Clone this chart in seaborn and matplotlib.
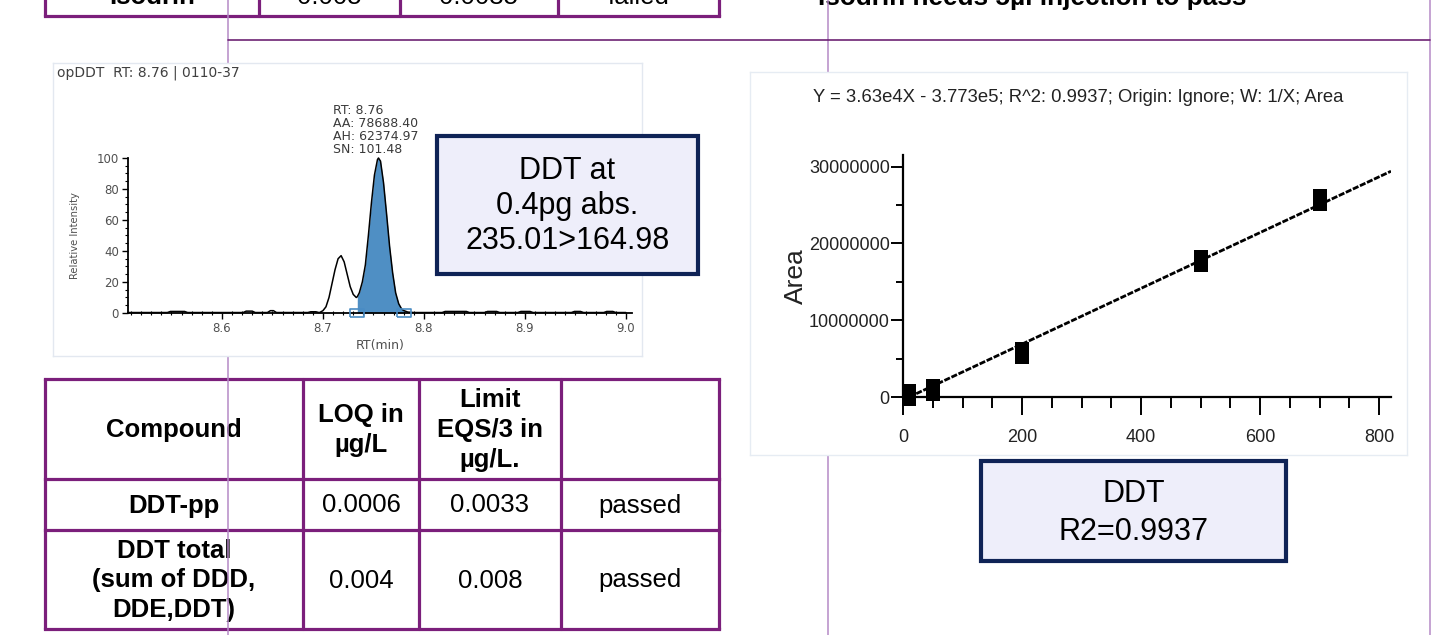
import numpy as np
import matplotlib
matplotlib.use("Agg")
import matplotlib.pyplot as plt
from matplotlib.patches import Rectangle
from matplotlib.ticker import MultipleLocator, FixedLocator
import seaborn as sns

# ---------------- data ----------------
# opDDT chromatogram, MRM 235.01>164.98 (relative intensity vs retention time)
rt_min = [8.507, 8.546, 8.549, 8.563, 8.566, 8.621, 8.624, 8.630, 8.633, 8.645,
          8.648, 8.651, 8.654, 8.685, 8.688, 8.693, 8.696,
          8.697, 8.700, 8.703, 8.706, 8.709, 8.712, 8.715, 8.718, 8.721, 8.724,
          8.727, 8.730, 8.733, 8.734, 8.736, 8.739, 8.742, 8.745, 8.748, 8.751,
          8.754, 8.755, 8.757, 8.760, 8.763, 8.766, 8.769, 8.772, 8.775, 8.778,
          8.780, 8.784, 8.790,
          8.818, 8.821, 8.842, 8.845, 8.860, 8.863, 8.872, 8.875, 8.893, 8.896,
          8.905, 8.908, 8.946, 8.949, 8.955, 8.958, 8.978, 8.981, 8.987, 8.990,
          9.000]
rel_intensity = [0.3, 0.3, 1.0, 1.0, 0.3, 0.3, 1.2, 1.2, 0.3, 0.3,
                 1.5, 1.5, 0.3, 0.3, 0.8, 0.8, 0.3,
                 0.4, 1.5, 4, 10, 19, 28, 35, 37, 33, 25,
                 17, 12, 10, 10.5, 13, 20, 31, 50, 71, 89,
                 99, 100, 98, 84, 64, 43, 26, 13, 6, 2.5,
                 1.6, 0.6, 0.3,
                 0.3, 1.0, 1.0, 0.3, 0.3, 1.0, 1.0, 0.3, 0.3, 1.0,
                 1.0, 0.3, 0.3, 1.0, 1.0, 0.3, 0.3, 1.0, 1.0, 0.3,
                 0.3]
peak_start, peak_end = 8.734, 8.780
chrom_title = "opDDT  RT: 8.76 | 0110-37"
peak_info = ["RT: 8.76", "AA: 78688.40", "AH: 62374.97", "SN: 101.48"]

# calibration of DDT (concentration vs peak area)
conc = [10, 50, 200, 500, 700]
area = [0.25e6, 0.9e6, 5.7e6, 17.7e6, 25.7e6]
slope, intercept, r_squared = 3.63e4, -3.773e5, 0.9937
fit_text = "Y = 3.63e4X - 3.773e5; R^2: 0.9937; Origin: Ignore; W: 1/X; Area"

# tables
top_row = ["Isodrin", "0.005", "0.0035", "failed"]
header = ["Compound", "LOQ in\nµg/L", "Limit\nEQS/3 in\nµg/L.", ""]
rows = [["DDT-pp", "0.0006", "0.0033", "passed"],
        ["DDT total\n(sum of DDD,\nDDE,DDT)", "0.004", "0.008", "passed"]]
headline = "Isodrin needs 5µl injection to pass"
box_chrom = "DDT at\n0.4pg abs.\n235.01>164.98"
box_cal = "DDT\nR2=0.9937"

# ---------------- style ----------------
sns.set_theme(style="white")
plt.rcParams["font.family"] = ["Liberation Sans", "DejaVu Sans"]
plt.rcParams["text.color"] = "black"
plt.rcParams["axes.labelcolor"] = "black"
CHROM_FONT = ["DejaVu Sans"]
CAL_FONT = ["Liberation Sans", "DejaVu Sans"]

W, H = 1450, 635
fig = plt.figure(figsize=(W / 100, H / 100), dpi=100)
fig.patch.set_facecolor("white")


def rect(x0, y0, x1, y1):
    return [x0 / W, 1 - y1 / H, (x1 - x0) / W, (y1 - y0) / H]


PURPLE = "#7b1f7b"
THIN = "#b58ac6"
NAVY = "#0f2356"

# background layer: tables and slide guide lines
bg = fig.add_axes([0, 0, 1, 1], zorder=0)
bg.set_xlim(0, W)
bg.set_ylim(H, 0)
bg.axis("off")

# top table (last row only)
top_cols = [45, 259, 400, 558, 719]
bg.plot([45, 719], [16, 16], color=PURPLE, lw=2.3, solid_capstyle="projecting", zorder=2)
for x in top_cols:
    bg.plot([x, x], [-5, 16], color=PURPLE, lw=2.3, zorder=2)
for i, txt in enumerate(top_row):
    bg.text((top_cols[i] + top_cols[i + 1]) / 2, 4.5, txt, ha="center", va="baseline",
            fontsize=18.5, fontweight="bold" if i == 0 else "normal", zorder=3)

# bottom table
cols = [45, 303, 419, 561, 719]
row_y = [379, 479, 530, 629]
for y in row_y:
    bg.plot([45, 719], [y, y], color=PURPLE, lw=2.3, solid_capstyle="projecting", zorder=2)
for x in cols:
    bg.plot([x, x], [379, 629], color=PURPLE, lw=2.3, zorder=2)
for r, line in enumerate([header] + rows):
    yc = (row_y[r] + row_y[r + 1]) / 2
    for c, txt in enumerate(line):
        bold = (r == 0) or (c == 0)
        bg.text((cols[c] + cols[c + 1]) / 2, yc + 1, txt, ha="center", va="center",
                fontsize=18.5, fontweight="bold" if bold else "normal",
                linespacing=1.3, zorder=3)

# guide lines
bg.plot([228, 228], [0, H], color=THIN, lw=1.1, zorder=5)
bg.plot([828, 828], [0, H], color=THIN, lw=1.1, zorder=5)
bg.plot([1430, 1430], [0, H], color=THIN, lw=1.1, zorder=5)
bg.plot([228, 1430], [40, 40], color="#6d2273", lw=1.2, zorder=5)
bg.text(1032, 5, headline, ha="center", va="baseline", fontsize=18.8,
        fontweight="bold", zorder=3)

# ---------------- chromatogram ----------------
panel1 = fig.add_axes(rect(53, 63, 642, 356), zorder=2)
panel1.set_facecolor("white")
panel1.set_xticks([])
panel1.set_yticks([])
for s in panel1.spines.values():
    s.set_color("#e3e8f0")
    s.set_linewidth(1.0)

ax1 = fig.add_axes(rect(128, 158, 632, 313), zorder=3)
ax1.patch.set_alpha(0)
rt = np.array(rt_min)
inten = np.array(rel_intensity)
sel = (rt >= peak_start) & (rt <= peak_end)
ax1.fill_between(rt[sel], 0, inten[sel], color="#4f8fc4", lw=0, zorder=2)
sns.lineplot(x=rt, y=inten, ax=ax1, color="black", lw=1.1, estimator=None,
             sort=False, zorder=3, clip_on=False)
bound_marker = [(-1, -0.6), (1, -0.6), (1, 0.6), (-1, 0.6), (-1, -0.6)]
ax1.plot([peak_start, peak_end], [0, 0], ls="none", marker=bound_marker, ms=9.5,
         mfc="none", mec="#4a8cc4", mew=1.2, clip_on=False, zorder=4)
ax1.set_xlim(8.507, 9.006)
ax1.set_ylim(0, 100)
for side in ("top", "right"):
    ax1.spines[side].set_visible(False)
for side in ("left", "bottom"):
    ax1.spines[side].set_color("black")
    ax1.spines[side].set_linewidth(1.3)
ax1.xaxis.set_major_locator(FixedLocator([8.6, 8.7, 8.8, 8.9, 9.0]))
ax1.xaxis.set_minor_locator(MultipleLocator(0.01))
ax1.yaxis.set_major_locator(MultipleLocator(20))
ax1.yaxis.set_minor_locator(MultipleLocator(5))
ax1.xaxis.set_major_formatter(matplotlib.ticker.FormatStrFormatter("%.1f"))
ax1.tick_params(axis="both", which="major", direction="out", length=4.5, width=1.0,
                color="black", labelsize=8.5, labelcolor="#505050", pad=2,
                bottom=True, left=True)
ax1.tick_params(axis="x", which="minor", direction="inout", length=3, width=0.8,
                color="black", bottom=True)
ax1.tick_params(axis="y", which="minor", direction="out", length=2.5, width=0.8,
                color="black", left=True)
for lab in ax1.get_xticklabels() + ax1.get_yticklabels():
    lab.set_family(CHROM_FONT)
ax1.set_xlabel("RT(min)", fontsize=9, family=CHROM_FONT, color="#505050", labelpad=3)
ax1.set_ylabel("Relative Intensity", fontsize=7.2, family=CHROM_FONT, color="#505050",
               labelpad=12)
ax1.text(8.7095, 101.5, "\n".join(peak_info), ha="left", va="bottom", fontsize=9,
         family=CHROM_FONT, color="#3a3a3a", linespacing=0.98, clip_on=False)

# ---------------- calibration ----------------
panel2 = fig.add_axes(rect(750, 72, 1407, 455), zorder=2)
panel2.set_facecolor("white")
panel2.set_xticks([])
panel2.set_yticks([])
for s in panel2.spines.values():
    s.set_color("#e6ecf3")
    s.set_linewidth(1.0)

ax2 = fig.add_axes(rect(903, 155, 1391, 397), zorder=3)
ax2.patch.set_alpha(0)
x_fit = np.array([-intercept / slope, 820])
y_fit = slope * x_fit + intercept
sns.lineplot(x=x_fit, y=y_fit, ax=ax2, color="black", lw=2.0,
             linestyle=(0, (2.2, 0.6)), zorder=2)
point_marker = [(-0.6, -1), (0.6, -1), (0.6, 1), (-0.6, 1), (-0.6, -1)]
sns.scatterplot(x=conc, y=area, ax=ax2, marker=point_marker, s=250,
                color="black", edgecolor="black", linewidth=0, zorder=3,
                clip_on=False)
ax2.set_xlim(0, 820)
ax2.set_ylim(0, 31.5e6)
for side in ("top", "right"):
    ax2.spines[side].set_visible(False)
for side in ("left", "bottom"):
    ax2.spines[side].set_color("black")
    ax2.spines[side].set_linewidth(1.6)
ax2.xaxis.set_major_locator(MultipleLocator(200))
ax2.xaxis.set_minor_locator(MultipleLocator(50))
ax2.yaxis.set_major_locator(MultipleLocator(10e6))
ax2.yaxis.set_minor_locator(MultipleLocator(5e6))
ax2.yaxis.set_major_formatter(matplotlib.ticker.FuncFormatter(lambda v, p: f"{v:.0f}"))
ax2.tick_params(axis="x", which="major", direction="out", length=13, width=1.4,
                color="black", pad=10, bottom=True)
ax2.tick_params(axis="x", which="minor", direction="out", length=8, width=1.4,
                color="black", bottom=True)
ax2.tick_params(axis="y", which="major", direction="out", length=8.5, width=1.4,
                color="black", pad=1, left=True)
ax2.tick_params(axis="y", which="minor", direction="out", length=5, width=1.4,
                color="black", left=True)
for lab in ax2.get_xticklabels() + ax2.get_yticklabels():
    lab.set_family(CAL_FONT)
    lab.set_fontsize(13)
    lab.set_color("#222222")
ax2.set_ylabel("Area", fontsize=19, family=CAL_FONT, color="#222222", labelpad=1)
ax2.set_xlabel("")

# ---------------- overlay: captions and callout boxes ----------------
top = fig.add_axes([0, 0, 1, 1], zorder=10)
top.set_xlim(0, W)
top.set_ylim(H, 0)
top.axis("off")
top.patch.set_alpha(0)

top.text(57, 73, chrom_title, ha="left", va="center", fontsize=10,
         family=CHROM_FONT, color="#404040")
top.text(1078, 97, fit_text, ha="center", va="center", fontsize=13.3,
         family=CAL_FONT, color="#222222")

top.add_patch(Rectangle((437, 136), 261, 138, facecolor="#eeeefa", edgecolor=NAVY,
                        lw=3))
top.text(567.5, 206, box_chrom, ha="center", va="center", fontsize=22,
         linespacing=1.2)
top.add_patch(Rectangle((981, 461), 305, 100, facecolor="#eeeefa", edgecolor=NAVY,
                        lw=3))
top.text(1133.5, 513, box_cal, ha="center", va="center", fontsize=22,
         linespacing=1.36)

fig.savefig("out.png", dpi=100, facecolor="white")
